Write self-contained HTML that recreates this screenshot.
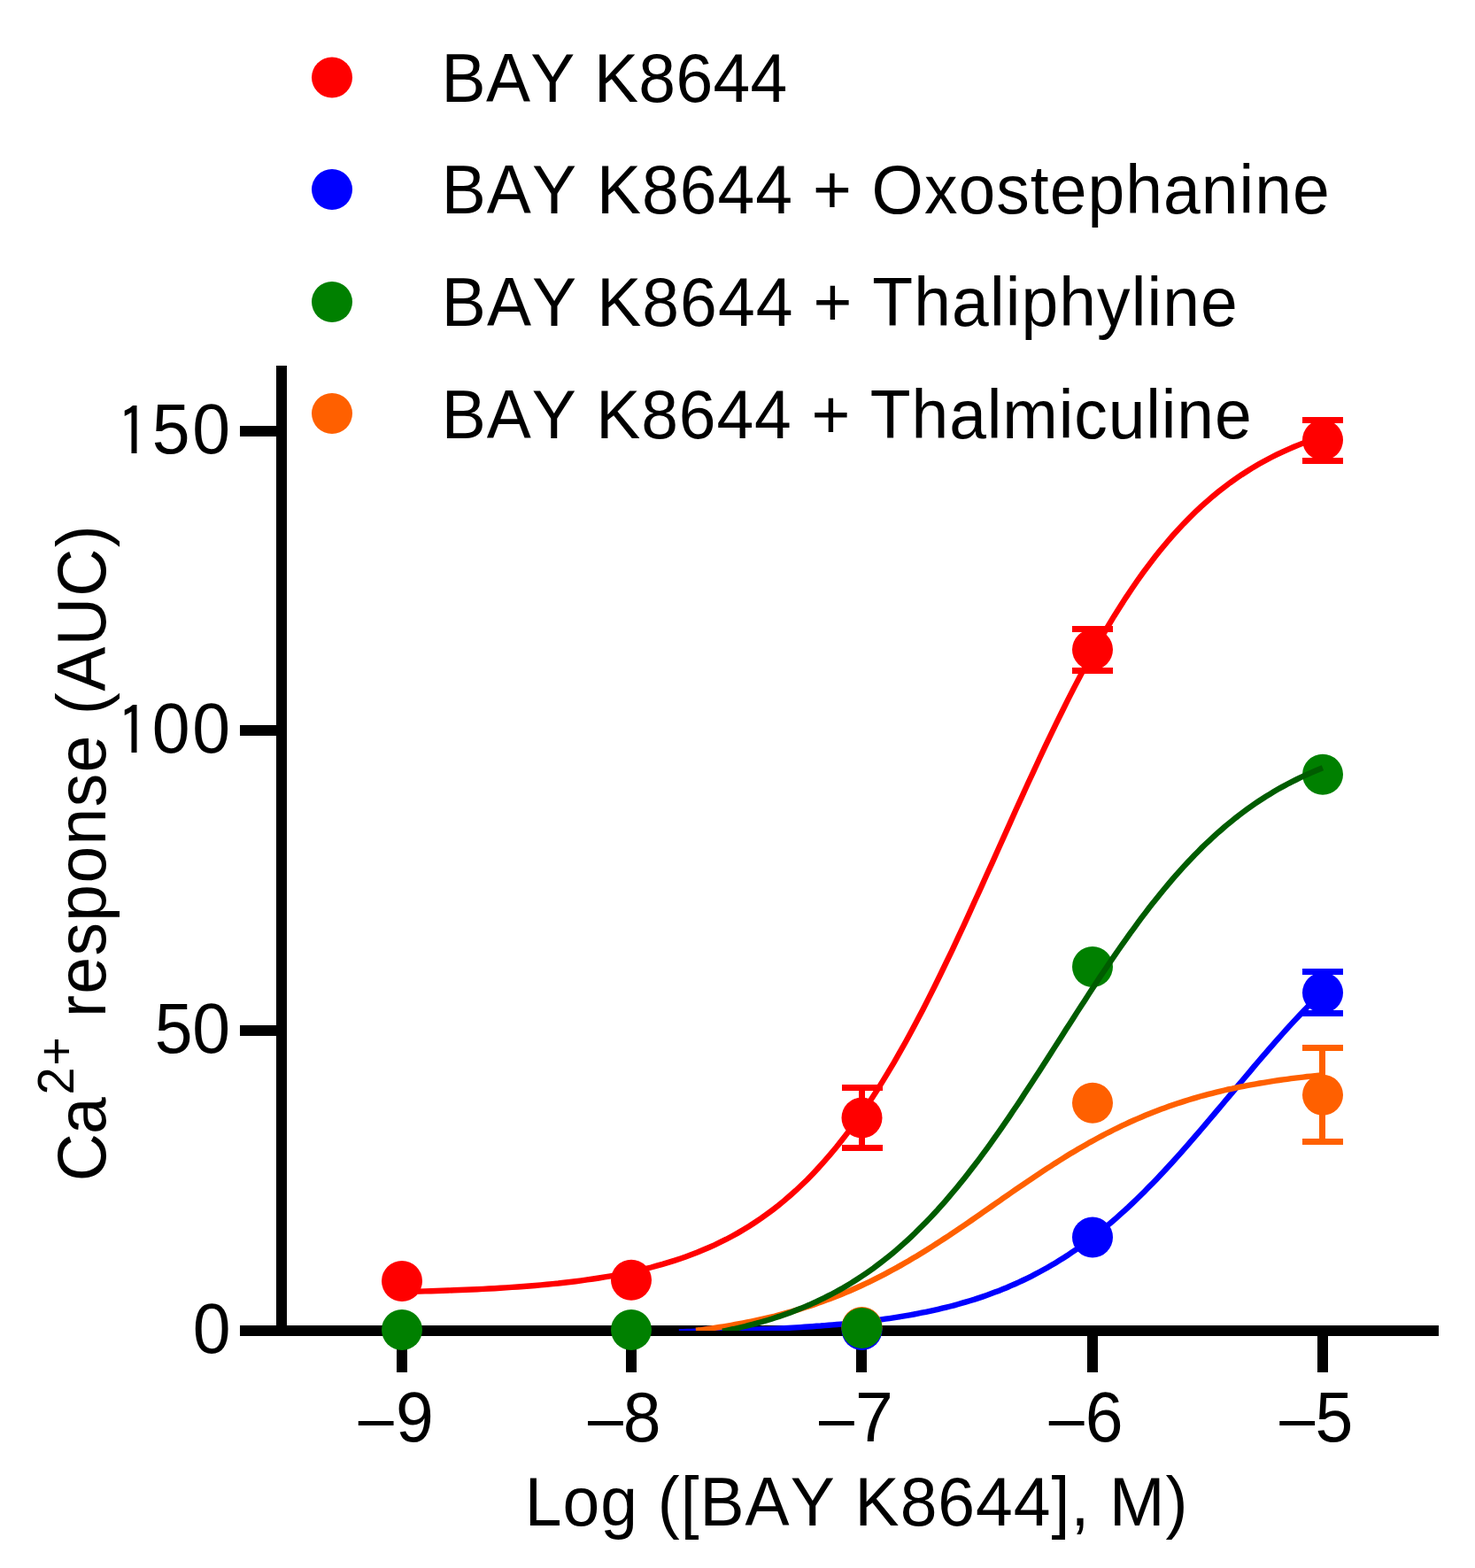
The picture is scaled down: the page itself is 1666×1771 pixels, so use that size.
<!DOCTYPE html>
<html><head><meta charset="utf-8"><style>
html,body{margin:0;padding:0;background:#fff;}
svg{display:block;}
text{font-family:"Liberation Sans",Arial,sans-serif;fill:#000;font-kerning:none;font-size:78px;}

</style></head><body>
<svg width="1666" height="1771" viewBox="0 0 1666 1771">
<rect width="1666" height="1771" fill="#fff"/>
<defs><clipPath id="pc"><rect x="0" y="0" width="1666" height="1503"/></clipPath></defs>

<g fill="#000">
<rect x="312" y="413" width="12" height="1096"/>
<rect x="271" y="1497" width="1354" height="12"/>
<rect x="271" y="481" width="41" height="12"/>
<rect x="271" y="819" width="41" height="12"/>
<rect x="271" y="1158" width="41" height="12"/>
<rect x="448" y="1509" width="12" height="41"/>
<rect x="707" y="1509" width="12" height="41"/>
<rect x="967" y="1509" width="12" height="41"/>
<rect x="1228" y="1509" width="12" height="41"/>
<rect x="1488" y="1509" width="12" height="41"/>
</g>
<text id="y0" transform="translate(217.7,1527.8) scale(0.9625,1)" style="font-size:80px">0</text>
<text id="y50" transform="translate(174.8,1189.1) scale(0.9625,1)" textLength="88.6" lengthAdjust="spacing" style="font-size:80px">50</text>
<text id="y100" transform="translate(132.1,850.3) scale(0.9625,1)" textLength="132.9" lengthAdjust="spacing" style="font-size:80px"><tspan style="font-family:IPAGothic,'Liberation Sans',sans-serif;font-size:76.7px;baseline-shift:-3.6px">1</tspan>00</text>
<text id="y150" transform="translate(132.1,511.8) scale(0.9625,1)" textLength="132.9" lengthAdjust="spacing" style="font-size:80px"><tspan style="font-family:IPAGothic,'Liberation Sans',sans-serif;font-size:76.7px;baseline-shift:-3.6px">1</tspan>50</text>
<text id="x0" transform="translate(404.8,1628.0) scale(0.9625,1)" textLength="88.3" lengthAdjust="spacing" style="font-size:80px"><tspan style="font-size:74.5px;baseline-shift:2.0px">&#8211;</tspan>9</text>
<text id="x1" transform="translate(664.0,1628.0) scale(0.9625,1)" textLength="85.7" lengthAdjust="spacing" style="font-size:80px"><tspan style="font-size:74.5px;baseline-shift:2.0px">&#8211;</tspan>8</text>
<text id="x2" transform="translate(925.0,1628.0) scale(0.9625,1)" textLength="87.2" lengthAdjust="spacing" style="font-size:80px"><tspan style="font-size:74.5px;baseline-shift:2.0px">&#8211;</tspan>7</text>
<text id="x3" transform="translate(1184.8,1628.0) scale(0.9625,1)" textLength="87.0" lengthAdjust="spacing" style="font-size:80px"><tspan style="font-size:74.5px;baseline-shift:2.0px">&#8211;</tspan>6</text>
<text id="x4" transform="translate(1445.2,1628.0) scale(0.9625,1)" textLength="86.4" lengthAdjust="spacing" style="font-size:80px"><tspan style="font-size:74.5px;baseline-shift:2.0px">&#8211;</tspan>5</text>
<text id="xt" transform="translate(592.7,1722.6) scale(0.9625,1)" textLength="778.1" lengthAdjust="spacing">Log ([BAY K8644], M)</text>
<text id="yt" transform="translate(119.2,1334.18) rotate(-90) scale(0.9625,1)"><tspan id="ytA" x="0.06" y="0.00" textLength="98.7" lengthAdjust="spacing">Ca</tspan><tspan id="ytB" x="101.52" y="-36.04" style="font-size:58px" textLength="67.8" lengthAdjust="spacing">2+</tspan><tspan id="ytC" x="169.31" y="0.00" textLength="600.5" lengthAdjust="spacing"> response (AUC)</tspan></text>
<circle cx="375" cy="87.5" r="23" fill="#ff0000"/>
<text id="l0" transform="translate(498.6,114.8) scale(0.9625,1)" textLength="405.9" lengthAdjust="spacing">BAY K8644</text>
<circle cx="375" cy="214" r="23" fill="#0000ff"/>
<text id="l1" transform="translate(498.8,240.6) scale(0.9625,1)" textLength="1042.0" lengthAdjust="spacing">BAY K8644 + Oxostephanine</text>
<circle cx="375" cy="341" r="23" fill="#008000"/>
<text id="l2" transform="translate(498.8,368.2) scale(0.9625,1)" textLength="934.0" lengthAdjust="spacing">BAY K8644 + Thaliphyline</text>
<circle cx="375" cy="467" r="23" fill="#ff6000"/>
<text id="l3" transform="translate(498.8,494.9) scale(0.9625,1)" textLength="950.6" lengthAdjust="spacing">BAY K8644 + Thalmiculine</text>
<g>
<g fill="#ff0000"><rect x="970" y="1225" width="7" height="68"/><rect x="951" y="1225" width="46" height="7"/><rect x="951" y="1293" width="46" height="7"/></g>
<g fill="#ff0000"><rect x="1231" y="707" width="7" height="47"/><rect x="1211" y="707" width="46" height="7"/><rect x="1211" y="754" width="46" height="7"/></g>
<g fill="#ff0000"><rect x="1491" y="471" width="7" height="46"/><rect x="1471" y="471" width="46" height="7"/><rect x="1471" y="517" width="46" height="7"/></g>
<circle cx="454" cy="1446.9" r="23" fill="#ff0000"/>
<circle cx="713" cy="1445.7" r="23" fill="#ff0000"/>
<circle cx="973.5" cy="1262.5" r="23" fill="#ff0000"/>
<circle cx="1234" cy="733.7" r="23" fill="#ff0000"/>
<circle cx="1494" cy="497" r="23" fill="#ff0000"/>
<path d="M454.0,1459.1 L460.5,1458.9 L467.1,1458.7 L473.6,1458.6 L480.2,1458.4 L486.7,1458.2 L493.2,1458.0 L499.8,1457.8 L506.3,1457.5 L512.9,1457.3 L519.4,1457.0 L525.9,1456.8 L532.5,1456.5 L539.0,1456.2 L545.6,1455.9 L552.1,1455.5 L558.7,1455.2 L565.2,1454.8 L571.7,1454.4 L578.3,1453.9 L584.8,1453.5 L591.4,1453.0 L597.9,1452.5 L604.4,1452.0 L611.0,1451.4 L617.5,1450.8 L624.1,1450.1 L630.6,1449.5 L637.1,1448.7 L643.7,1448.0 L650.2,1447.2 L656.8,1446.3 L663.3,1445.4 L669.8,1444.5 L676.4,1443.5 L682.9,1442.4 L689.5,1441.3 L696.0,1440.1 L702.6,1438.9 L709.1,1437.5 L715.6,1436.1 L722.2,1434.7 L728.7,1433.1 L735.3,1431.5 L741.8,1429.7 L748.3,1427.9 L754.9,1425.9 L761.4,1423.9 L768.0,1421.7 L774.5,1419.4 L781.0,1417.0 L787.6,1414.5 L794.1,1411.8 L800.7,1409.0 L807.2,1406.1 L813.7,1402.9 L820.3,1399.7 L826.8,1396.2 L833.4,1392.6 L839.9,1388.7 L846.5,1384.7 L853.0,1380.5 L859.5,1376.1 L866.1,1371.4 L872.6,1366.6 L879.2,1361.5 L885.7,1356.1 L892.2,1350.5 L898.8,1344.7 L905.3,1338.5 L911.9,1332.2 L918.4,1325.5 L924.9,1318.5 L931.5,1311.2 L938.0,1303.7 L944.6,1295.8 L951.1,1287.6 L957.6,1279.1 L964.2,1270.3 L970.7,1261.2 L977.3,1251.7 L983.8,1241.9 L990.4,1231.8 L996.9,1221.4 L1003.4,1210.6 L1010.0,1199.6 L1016.5,1188.2 L1023.1,1176.5 L1029.6,1164.5 L1036.1,1152.2 L1042.7,1139.7 L1049.2,1126.9 L1055.8,1113.8 L1062.3,1100.5 L1068.8,1087.0 L1075.4,1073.3 L1081.9,1059.4 L1088.5,1045.3 L1095.0,1031.1 L1101.5,1016.7 L1108.1,1002.3 L1114.6,987.8 L1121.2,973.3 L1127.7,958.7 L1134.3,944.1 L1140.8,929.6 L1147.3,915.0 L1153.9,900.6 L1160.4,886.3 L1167.0,872.1 L1173.5,858.0 L1180.0,844.1 L1186.6,830.3 L1193.1,816.8 L1199.7,803.5 L1206.2,790.4 L1212.7,777.6 L1219.3,765.0 L1225.8,752.7 L1232.4,740.7 L1238.9,729.0 L1245.4,717.6 L1252.0,706.5 L1258.5,695.7 L1265.1,685.3 L1271.6,675.1 L1278.2,665.3 L1284.7,655.8 L1291.2,646.7 L1297.8,637.8 L1304.3,629.3 L1310.9,621.1 L1317.4,613.2 L1323.9,605.7 L1330.5,598.4 L1337.0,591.4 L1343.6,584.7 L1350.1,578.3 L1356.6,572.1 L1363.2,566.3 L1369.7,560.7 L1376.3,555.3 L1382.8,550.2 L1389.3,545.3 L1395.9,540.6 L1402.4,536.2 L1409.0,532.0 L1415.5,527.9 L1422.1,524.1 L1428.6,520.5 L1435.1,517.0 L1441.7,513.7 L1448.2,510.6 L1454.8,507.6 L1461.3,504.8 L1467.8,502.1 L1474.4,499.5 L1480.9,497.1 L1487.5,494.8 L1494.0,492.7" stroke="#ff0000" stroke-width="6.4" fill="none" clip-path="url(#pc)"/>
</g>
<g>
<g fill="#0000ff"><rect x="1491" y="1094" width="7" height="47"/><rect x="1471" y="1094" width="46" height="7"/><rect x="1471" y="1141" width="46" height="7"/></g>
<circle cx="973.5" cy="1502" r="23" fill="#0000ff"/>
<circle cx="1234" cy="1397.4" r="23" fill="#0000ff"/>
<circle cx="1494" cy="1121.2" r="23" fill="#0000ff"/>
<path d="M766.8,1504.1 L771.4,1504.1 L775.9,1504.0 L780.5,1503.9 L785.1,1503.8 L789.7,1503.7 L794.2,1503.6 L798.8,1503.4 L803.4,1503.3 L808.0,1503.2 L812.5,1503.1 L817.1,1502.9 L821.7,1502.8 L826.3,1502.7 L830.8,1502.5 L835.4,1502.4 L840.0,1502.2 L844.6,1502.0 L849.1,1501.8 L853.7,1501.7 L858.3,1501.5 L862.8,1501.3 L867.4,1501.1 L872.0,1500.9 L876.6,1500.6 L881.1,1500.4 L885.7,1500.2 L890.3,1499.9 L894.9,1499.6 L899.4,1499.4 L904.0,1499.1 L908.6,1498.8 L913.2,1498.5 L917.7,1498.2 L922.3,1497.8 L926.9,1497.5 L931.4,1497.1 L936.0,1496.8 L940.6,1496.4 L945.2,1496.0 L949.7,1495.6 L954.3,1495.1 L958.9,1494.7 L963.5,1494.2 L968.0,1493.7 L972.6,1493.2 L977.2,1492.7 L981.8,1492.1 L986.3,1491.6 L990.9,1491.0 L995.5,1490.4 L1000.1,1489.7 L1004.6,1489.1 L1009.2,1488.4 L1013.8,1487.6 L1018.3,1486.9 L1022.9,1486.1 L1027.5,1485.3 L1032.1,1484.5 L1036.6,1483.6 L1041.2,1482.7 L1045.8,1481.8 L1050.4,1480.8 L1054.9,1479.8 L1059.5,1478.8 L1064.1,1477.7 L1068.7,1476.6 L1073.2,1475.5 L1077.8,1474.3 L1082.4,1473.0 L1087.0,1471.7 L1091.5,1470.4 L1096.1,1469.0 L1100.7,1467.6 L1105.2,1466.1 L1109.8,1464.6 L1114.4,1463.0 L1119.0,1461.3 L1123.5,1459.6 L1128.1,1457.9 L1132.7,1456.1 L1137.3,1454.2 L1141.8,1452.2 L1146.4,1450.2 L1151.0,1448.2 L1155.6,1446.0 L1160.1,1443.8 L1164.7,1441.6 L1169.3,1439.2 L1173.8,1436.8 L1178.4,1434.3 L1183.0,1431.8 L1187.6,1429.1 L1192.1,1426.4 L1196.7,1423.6 L1201.3,1420.7 L1205.9,1417.8 L1210.4,1414.7 L1215.0,1411.6 L1219.6,1408.4 L1224.2,1405.1 L1228.7,1401.7 L1233.3,1398.3 L1237.9,1394.7 L1242.5,1391.1 L1247.0,1387.4 L1251.6,1383.6 L1256.2,1379.7 L1260.7,1375.8 L1265.3,1371.7 L1269.9,1367.6 L1274.5,1363.4 L1279.0,1359.1 L1283.6,1354.7 L1288.2,1350.2 L1292.8,1345.7 L1297.3,1341.1 L1301.9,1336.4 L1306.5,1331.7 L1311.1,1326.8 L1315.6,1322.0 L1320.2,1317.0 L1324.8,1312.0 L1329.4,1306.9 L1333.9,1301.8 L1338.5,1296.6 L1343.1,1291.4 L1347.6,1286.2 L1352.2,1280.9 L1356.8,1275.5 L1361.4,1270.2 L1365.9,1264.8 L1370.5,1259.4 L1375.1,1253.9 L1379.7,1248.5 L1384.2,1243.0 L1388.8,1237.6 L1393.4,1232.1 L1398.0,1226.6 L1402.5,1221.2 L1407.1,1215.7 L1411.7,1210.3 L1416.2,1204.9 L1420.8,1199.5 L1425.4,1194.2 L1430.0,1188.9 L1434.5,1183.6 L1439.1,1178.4 L1443.7,1173.2 L1448.3,1168.0 L1452.8,1162.9 L1457.4,1157.9 L1462.0,1152.9 L1466.6,1148.0 L1471.1,1143.2 L1475.7,1138.4 L1480.3,1133.7 L1484.9,1129.1 L1489.4,1124.5 L1494.0,1120.0" stroke="#0000ff" stroke-width="6.4" fill="none" clip-path="url(#pc)"/>
</g>
<g>
<g fill="#ff6000"><rect x="1490" y="1180" width="7" height="106"/><rect x="1471" y="1180" width="46" height="7"/><rect x="1471" y="1286" width="46" height="7"/></g>
<circle cx="973.5" cy="1499" r="23" fill="#ff6000"/>
<circle cx="1234" cy="1245.8" r="23" fill="#ff6000"/>
<circle cx="1494" cy="1236.8" r="23" fill="#ff6000"/>
<path d="M786.0,1502.8 L790.5,1502.3 L794.9,1501.7 L799.4,1501.0 L803.8,1500.4 L808.3,1499.7 L812.7,1499.0 L817.2,1498.3 L821.6,1497.6 L826.1,1496.8 L830.5,1496.0 L835.0,1495.2 L839.4,1494.4 L843.9,1493.5 L848.3,1492.6 L852.8,1491.6 L857.2,1490.7 L861.7,1489.7 L866.2,1488.6 L870.6,1487.6 L875.1,1486.5 L879.5,1485.3 L884.0,1484.1 L888.4,1482.9 L892.9,1481.7 L897.3,1480.4 L901.8,1479.1 L906.2,1477.7 L910.7,1476.3 L915.1,1474.9 L919.6,1473.4 L924.0,1471.8 L928.5,1470.3 L932.9,1468.6 L937.4,1467.0 L941.8,1465.3 L946.3,1463.5 L950.8,1461.7 L955.2,1459.9 L959.7,1458.0 L964.1,1456.0 L968.6,1454.0 L973.0,1452.0 L977.5,1449.9 L981.9,1447.8 L986.4,1445.6 L990.8,1443.4 L995.3,1441.1 L999.7,1438.8 L1004.2,1436.4 L1008.6,1434.0 L1013.1,1431.6 L1017.5,1429.1 L1022.0,1426.5 L1026.5,1424.0 L1030.9,1421.3 L1035.4,1418.7 L1039.8,1416.0 L1044.3,1413.2 L1048.7,1410.5 L1053.2,1407.6 L1057.6,1404.8 L1062.1,1401.9 L1066.5,1399.0 L1071.0,1396.1 L1075.4,1393.1 L1079.9,1390.1 L1084.3,1387.1 L1088.8,1384.1 L1093.2,1381.1 L1097.7,1378.0 L1102.2,1374.9 L1106.6,1371.8 L1111.1,1368.7 L1115.5,1365.6 L1120.0,1362.5 L1124.4,1359.4 L1128.9,1356.3 L1133.3,1353.2 L1137.8,1350.1 L1142.2,1347.0 L1146.7,1343.9 L1151.1,1340.9 L1155.6,1337.8 L1160.0,1334.8 L1164.5,1331.8 L1168.9,1328.8 L1173.4,1325.8 L1177.8,1322.9 L1182.3,1319.9 L1186.8,1317.1 L1191.2,1314.2 L1195.7,1311.4 L1200.1,1308.6 L1204.6,1305.8 L1209.0,1303.1 L1213.5,1300.4 L1217.9,1297.8 L1222.4,1295.2 L1226.8,1292.7 L1231.3,1290.1 L1235.7,1287.7 L1240.2,1285.3 L1244.6,1282.9 L1249.1,1280.5 L1253.5,1278.3 L1258.0,1276.0 L1262.5,1273.8 L1266.9,1271.7 L1271.4,1269.6 L1275.8,1267.5 L1280.3,1265.5 L1284.7,1263.6 L1289.2,1261.7 L1293.6,1259.8 L1298.1,1258.0 L1302.5,1256.2 L1307.0,1254.5 L1311.4,1252.8 L1315.9,1251.2 L1320.3,1249.6 L1324.8,1248.0 L1329.2,1246.5 L1333.7,1245.1 L1338.2,1243.6 L1342.6,1242.3 L1347.1,1240.9 L1351.5,1239.6 L1356.0,1238.3 L1360.4,1237.1 L1364.9,1235.9 L1369.3,1234.8 L1373.8,1233.7 L1378.2,1232.6 L1382.7,1231.5 L1387.1,1230.5 L1391.6,1229.6 L1396.0,1228.6 L1400.5,1227.7 L1404.9,1226.8 L1409.4,1225.9 L1413.8,1225.1 L1418.3,1224.3 L1422.8,1223.5 L1427.2,1222.8 L1431.7,1222.1 L1436.1,1221.4 L1440.6,1220.7 L1445.0,1220.0 L1449.5,1219.4 L1453.9,1218.8 L1458.4,1218.2 L1462.8,1217.6 L1467.3,1217.1 L1471.7,1216.6 L1476.2,1216.0 L1480.6,1215.6 L1485.1,1215.1 L1489.5,1214.6 L1494.0,1214.2" stroke="#ff6000" stroke-width="6.4" fill="none" clip-path="url(#pc)"/>
</g>
<g>
<circle cx="454" cy="1501.9" r="23" fill="#008000"/>
<circle cx="713" cy="1501.9" r="23" fill="#008000"/>
<circle cx="973.5" cy="1499.9" r="23" fill="#008000"/>
<circle cx="1234" cy="1091.9" r="23" fill="#008000"/>
<circle cx="1494" cy="874.8" r="23" fill="#008000"/>
<path d="M816.0,1503.7 L820.3,1502.8 L824.5,1501.9 L828.8,1501.0 L833.1,1500.0 L837.3,1499.0 L841.6,1498.0 L845.8,1496.9 L850.1,1495.8 L854.4,1494.7 L858.6,1493.5 L862.9,1492.2 L867.2,1491.0 L871.4,1489.7 L875.7,1488.3 L880.0,1486.9 L884.2,1485.4 L888.5,1483.9 L892.8,1482.4 L897.0,1480.8 L901.3,1479.1 L905.5,1477.4 L909.8,1475.6 L914.1,1473.8 L918.3,1471.9 L922.6,1470.0 L926.9,1467.9 L931.1,1465.9 L935.4,1463.7 L939.7,1461.5 L943.9,1459.2 L948.2,1456.9 L952.5,1454.5 L956.7,1452.0 L961.0,1449.4 L965.2,1446.7 L969.5,1444.0 L973.8,1441.2 L978.0,1438.3 L982.3,1435.3 L986.6,1432.3 L990.8,1429.1 L995.1,1425.9 L999.4,1422.6 L1003.6,1419.2 L1007.9,1415.7 L1012.2,1412.1 L1016.4,1408.4 L1020.7,1404.7 L1024.9,1400.8 L1029.2,1396.8 L1033.5,1392.8 L1037.7,1388.6 L1042.0,1384.3 L1046.3,1380.0 L1050.5,1375.6 L1054.8,1371.0 L1059.1,1366.4 L1063.3,1361.6 L1067.6,1356.8 L1071.8,1351.9 L1076.1,1346.8 L1080.4,1341.7 L1084.6,1336.5 L1088.9,1331.2 L1093.2,1325.8 L1097.4,1320.3 L1101.7,1314.8 L1106.0,1309.1 L1110.2,1303.4 L1114.5,1297.6 L1118.8,1291.7 L1123.0,1285.7 L1127.3,1279.7 L1131.5,1273.6 L1135.8,1267.4 L1140.1,1261.1 L1144.3,1254.8 L1148.6,1248.5 L1152.9,1242.1 L1157.1,1235.6 L1161.4,1229.1 L1165.7,1222.6 L1169.9,1216.1 L1174.2,1209.5 L1178.5,1202.8 L1182.7,1196.2 L1187.0,1189.5 L1191.2,1182.9 L1195.5,1176.2 L1199.8,1169.5 L1204.0,1162.8 L1208.3,1156.2 L1212.6,1149.5 L1216.8,1142.9 L1221.1,1136.3 L1225.4,1129.7 L1229.6,1123.1 L1233.9,1116.6 L1238.2,1110.1 L1242.4,1103.6 L1246.7,1097.2 L1250.9,1090.9 L1255.2,1084.6 L1259.5,1078.4 L1263.7,1072.2 L1268.0,1066.1 L1272.3,1060.1 L1276.5,1054.1 L1280.8,1048.3 L1285.1,1042.4 L1289.3,1036.7 L1293.6,1031.1 L1297.8,1025.5 L1302.1,1020.1 L1306.4,1014.7 L1310.6,1009.4 L1314.9,1004.2 L1319.2,999.1 L1323.4,994.1 L1327.7,989.2 L1332.0,984.3 L1336.2,979.6 L1340.5,975.0 L1344.8,970.5 L1349.0,966.0 L1353.3,961.7 L1357.5,957.4 L1361.8,953.3 L1366.1,949.3 L1370.3,945.3 L1374.6,941.4 L1378.9,937.7 L1383.1,934.0 L1387.4,930.4 L1391.7,927.0 L1395.9,923.6 L1400.2,920.3 L1404.5,917.0 L1408.7,913.9 L1413.0,910.9 L1417.2,907.9 L1421.5,905.0 L1425.8,902.2 L1430.0,899.5 L1434.3,896.9 L1438.6,894.3 L1442.8,891.8 L1447.1,889.4 L1451.4,887.1 L1455.6,884.8 L1459.9,882.6 L1464.2,880.5 L1468.4,878.4 L1472.7,876.4 L1476.9,874.5 L1481.2,872.6 L1485.5,870.8 L1489.7,869.0 L1494.0,867.3" stroke="#005c00" stroke-width="6.4" fill="none" clip-path="url(#pc)"/>
</g>
</svg></body></html>
